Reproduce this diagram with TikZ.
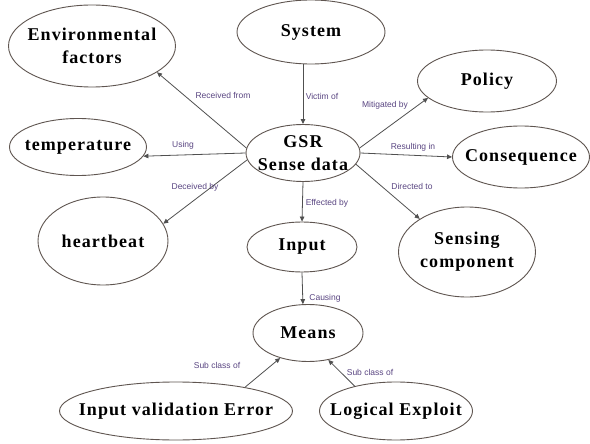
\documentclass[tikz,border=0pt]{standalone}
\usepackage{fontspec}
\setmainfont{Liberation Serif}
\newfontfamily\conceptfont[LetterSpace=6]{Liberation Serif}
\newfontfamily\relfont{Liberation Sans}
\usetikzlibrary{shapes.geometric,arrows.meta}
\definecolor{rimgray}{RGB}{95,85,80}
\definecolor{wiregray}{RGB}{80,80,80}
\definecolor{relcol}{RGB}{90,70,130}
\begin{document}
\begin{tikzpicture}[x=1pt,y=-1pt,
  concept/.style={draw=rimgray,line width=0.9pt,ellipse,inner xsep=-60pt,inner ysep=-6pt,align=center,
    font=\conceptfont\bfseries\fontsize{18}{23}\selectfont},
  link/.style={draw=wiregray,line width=0.8pt,-{Triangle[length=5pt,width=4.5pt]}},
  rel/.style={font=\relfont\fontsize{8.5}{9}\selectfont,text=relcol,inner sep=1pt}]
\useasboundingbox[fill=white] (0,0) rectangle (590,444);
% concepts
\node[concept,minimum width=167pt,minimum height=82pt] (env) at (92,46) {Environmental\\factors};
\node[concept,minimum width=148pt,minimum height=64pt] (sys) at (311,32) {System};
\node[concept,minimum width=139pt,minimum height=62pt] (pol) at (487,81) {Policy};
\node[concept,minimum width=137pt,minimum height=62pt] (cons) at (521,157) {Consequence};
\node[concept,minimum width=137pt,minimum height=90pt] (sens) at (467,252) {Sensing\\component};
\node[concept,minimum width=114pt,minimum height=57pt] (gsr) at (303,153) {GSR\\Sense data};
\node[concept,minimum width=137pt,minimum height=57pt] (temp) at (78,147) {temperature};
\node[concept,minimum width=130pt,minimum height=88pt] (hb) at (103,241) {heartbeat};
\node[concept,minimum width=110pt,minimum height=50pt] (inp) at (302,247) {Input};
\node[concept,minimum width=110pt,minimum height=57pt] (means) at (308,333) {Means};
\node[concept,minimum width=233pt,minimum height=58pt] (ive) at (176,411) {Input validation Error};
\node[concept,minimum width=153pt,minimum height=58pt] (le) at (396,411) {Logical Exploit};
% relations
\draw[link] (gsr.175) -- (env.-22);
\draw[link] (gsr.north |- sys.south) -- (gsr.north);
\draw[link] (gsr.5) -- (pol.196);
\draw[link] (gsr.west) -- (temp.-8);
\draw[link] (gsr.east) -- (cons.west);
\draw[link] (gsr.187) -- (hb.16);
\draw[link] (gsr.-12) -- (sens.145);
\draw[link] (gsr.south) -- (inp.north);
\draw[link] (inp.south) -- (means.100);
\draw[link] (ive.19) -- (means.222);
\draw[link] (le.149) -- (means.307);
\node[rel] (lrec) at (223,95) {Received from};
\node[rel] (lvic) at (322,96) {Victim of};
\node[rel] (lmit) at (385,105) {Mitigated by};
\node[rel] (luse) at (183,145) {Using};
\node[rel] (lres) at (413,147) {Resulting in};
\node[rel] (ldec) at (195,187) {Deceived by};
\node[rel] (ldir) at (412,186) {Directed to};
\node[rel] (leff) at (327,203) {Effected by};
\node[rel] (lcau) at (325,298) {Causing};
\node[rel] (lsub) at (217,365) {Sub class of};
\node[rel] (lsubb) at (370,372) {Sub class of};
\end{tikzpicture}
\end{document}
